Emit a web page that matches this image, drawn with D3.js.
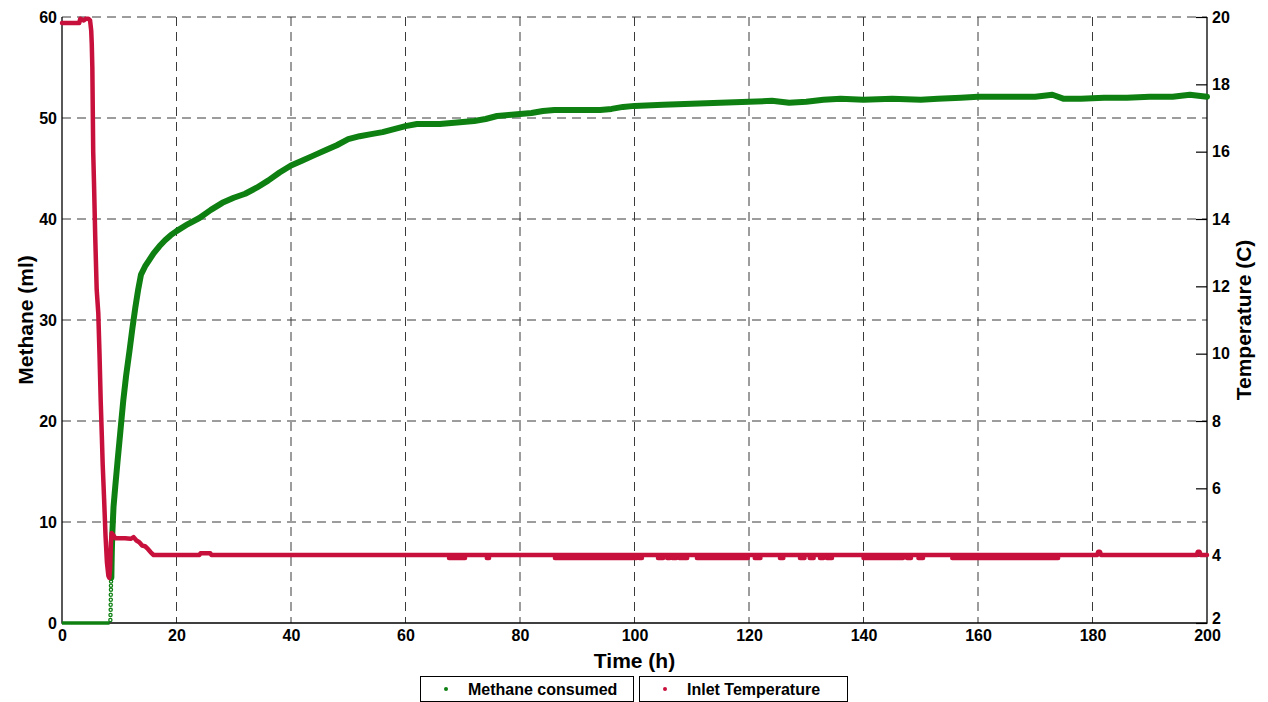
<!DOCTYPE html>
<html><head><meta charset="utf-8">
<script src="https://cdn.jsdelivr.net/npm/d3@7"></script>
<style>
html,body{margin:0;padding:0;background:#fff;}
svg{display:block;font-family:"Liberation Sans",Arial,sans-serif;}
</style></head>
<body><svg id="chart" width="1268" height="702"></svg>
<script>
// ---- data ----
const xTicks = [0,20,40,60,80,100,120,140,160,180,200];
const yLeftTicks = [0,10,20,30,40,50,60];
const yRightTicks = [2,4,6,8,10,12,14,16,18,20];

// Methane consumed (ml) vs time (h) - continuous part
const methaneTime = [0,8.3,8.62,8.65,8.7,8.8,9,9.3,9.7,10.2,10.7,11.2,11.8,12.3,12.8,13.3,13.8,14.5,15.2,16,17,18,19,20,22,24,26,28,30,32,34,36,38,40,42,44,46,48,50,52,54,56,58,60,62,64,66,68,70,72,74,76,78,80,82,84,86,88,90,92,94,96,98,100,105,110,115,120,124,127,130,133,136,140,145,150,153,157,160,165,170,173,175,178,182,186,190,194,197,200];
const methaneValue = [0,0,4.5,5.5,7,9,11.5,13.5,16,19,22,24.5,27,29.2,31.2,33,34.5,35.3,35.9,36.6,37.3,37.9,38.4,38.8,39.5,40.1,40.9,41.6,42.1,42.5,43.1,43.8,44.6,45.3,45.8,46.3,46.8,47.3,47.9,48.2,48.4,48.6,48.9,49.2,49.4,49.4,49.4,49.5,49.6,49.7,49.9,50.2,50.3,50.4,50.5,50.7,50.8,50.8,50.8,50.8,50.8,50.9,51.1,51.2,51.3,51.4,51.5,51.6,51.7,51.5,51.6,51.8,51.9,51.8,51.9,51.8,51.9,52.0,52.1,52.1,52.1,52.3,51.9,51.9,52.0,52.0,52.1,52.1,52.3,52.1];
// sparse samples during the steep start (drawn as separate dots)
const methaneRiseTime = [8.45,8.47,8.5,8.5,8.52,8.52,8.55,8.55,8.57,8.6];
const methaneRiseValue = [0.3,0.8,1.3,1.8,2.3,2.8,3.3,3.7,4.1,4.4];

// Inlet temperature (C) vs time (h) - main trace
const tempTime = [0,3.0,3.2,3.8,4.2,4.6,4.9,5.1,5.2,5.3,5.45,5.6,5.8,6.06,6.34,6.55,6.76,6.95,7.11,7.35,7.6,7.85,8.1,8.26,8.4,8.55,8.68,9.0,9.3,11,12,12.5,13,13.5,14,14.5,15,15.5,16,24,24.2,25.9,26.1,180.8,181.0,181.3,181.5,198.2,198.4,198.7,198.9,200];
const tempValue = [19.82,19.82,19.95,19.9,19.95,19.95,19.9,19.6,19.2,18.5,16.0,15.0,13.5,11.9,11.2,10.0,8.6,7.6,6.7,5.7,4.6,3.8,3.4,3.34,3.6,4.4,4.67,4.6,4.52,4.52,4.5,4.55,4.45,4.4,4.3,4.28,4.2,4.1,4.02,4.02,4.07,4.07,4.02,4.02,4.12,4.12,4.02,4.02,4.12,4.12,4.02,4.02];
// short stretches where the reading dropped to ~3.93 C
const dipStart = [67.6,74.2,86.1,100.1,100.8,104.1,105.7,106.6,107.8,110.9,121.0,125.4,128.9,130.6,132.4,133.6,140.0,147.6,149.6,155.5];
const dipEnd   = [70.4,74.6,99.8,100.4,101.3,105.0,106.2,107.3,109.2,119.8,122.0,126.0,129.7,131.3,133.0,134.5,146.9,148.3,150.4,174.0];
const dipValue = 3.93;

const legendLabels = ["Methane consumed","Inlet Temperature"];
const green = "#0e8012", red = "#c8103c";

// ---- layout ----
const svg = d3.select("#chart");
const L = 62, R = 1207, T = 17, B = 623;
const x = d3.scaleLinear().domain([0,200]).range([L,R]);
const yL = d3.scaleLinear().domain([0,60]).range([B,T]);
const yR = d3.scaleLinear().domain([2,20]).range([B,T]);

// grid
const grid = svg.append("g");
grid.selectAll("line.v").data(xTicks.filter(d=>d>0&&d<200)).join("line")
  .attr("x1",d=>x(d)).attr("x2",d=>x(d)).attr("y1",T).attr("y2",B)
  .attr("stroke","#3a3a3a").attr("stroke-width",1).attr("stroke-dasharray","9,6");
grid.selectAll("line.h").data(yLeftTicks.filter(d=>d>0)).join("line")
  .attr("x1",L).attr("x2",R).attr("y1",d=>yL(d)).attr("y2",d=>yL(d))
  .attr("stroke","#3a3a3a").attr("stroke-width",1).attr("stroke-dasharray","9,6");

// frame (solid left, bottom, right)
svg.append("path").attr("d",`M${L},${T}V${B}H${R}V${T}`).attr("fill","none").attr("stroke","#000").attr("stroke-width",1.3);

// axes
const gx = svg.append("g").attr("transform",`translate(0,${B})`)
  .call(d3.axisBottom(x).tickValues(xTicks).tickSize(0).tickPadding(8));
const gl = svg.append("g").attr("transform",`translate(${L},0)`)
  .call(d3.axisLeft(yL).tickValues(yLeftTicks).tickSize(0).tickPadding(5));
const gr = svg.append("g").attr("transform",`translate(${R},0)`)
  .call(d3.axisRight(yR).tickValues(yRightTicks).tickSize(-11).tickPadding(5));
[gx,gl,gr].forEach(g=>{
  g.select(".domain").remove();
  g.selectAll("text").attr("font-size",16).attr("font-weight","bold").attr("fill","#000");
  g.selectAll("line").attr("stroke","#000").attr("stroke-width",1.2);
});
gx.selectAll("text").attr("dy","0.62em");
// lowest right label sits just above the last x label, as in the reference
gr.selectAll(".tick").filter(d=>d===2).select("text").attr("dy","0.05em");

// axis titles
svg.append("text").attr("x",(L+R)/2).attr("y",668).attr("text-anchor","middle")
  .attr("font-size",21).attr("font-weight","bold").text("Time (h)");
svg.append("text").attr("transform",`translate(33,${(T+B)/2}) rotate(-90)`).attr("text-anchor","middle")
  .attr("font-size",21).attr("font-weight","bold").text("Methane (ml)");
svg.append("text").attr("transform",`translate(1251,${(T+B)/2}) rotate(-90)`).attr("text-anchor","middle")
  .attr("font-size",21).attr("font-weight","bold").text("Temperature (C)");

// methane series
const mData = methaneTime.map((t,i)=>({t, v:methaneValue[i]}));
const lineM = d3.line().x(d=>x(d.t)).y(d=>yL(d.v));
svg.append("path").datum(mData.slice(0,2)).attr("d",lineM).attr("fill","none")
  .attr("stroke",green).attr("stroke-width",3.5);
svg.append("path").datum(mData.slice(2)).attr("d",lineM).attr("fill","none")
  .attr("stroke",green).attr("stroke-width",6).attr("stroke-linejoin","round").attr("stroke-linecap","round");
svg.selectAll("circle.mr").data(methaneRiseTime.map((t,i)=>({t,v:methaneRiseValue[i]}))).join("circle")
  .attr("cx",d=>x(d.t)).attr("cy",d=>yL(d.v)).attr("r",1.6)
  .attr("fill","none").attr("stroke",green).attr("stroke-width",1.3);

// temperature series
const tData = tempTime.map((t,i)=>({t, v:tempValue[i]}));
const lineT = d3.line().x(d=>x(d.t)).y(d=>yR(d.v));
svg.append("path").datum(tData).attr("d",lineT).attr("fill","none")
  .attr("stroke",red).attr("stroke-width",4.5).attr("stroke-linejoin","round").attr("stroke-linecap","round");
svg.selectAll("line.dip").data(dipStart.map((s,i)=>({s, e:dipEnd[i]}))).join("line")
  .attr("x1",d=>x(d.s)).attr("x2",d=>x(d.e)).attr("y1",yR(dipValue)).attr("y2",yR(dipValue))
  .attr("stroke",red).attr("stroke-width",4.5).attr("stroke-linecap","round");

// legend
const legend = [
  {x0:420, x1:633, dot:446, tx:468, color:green, label:legendLabels[0]},
  {x0:639, x1:847, dot:665, tx:687, color:red, label:legendLabels[1]}
];
const lg = svg.selectAll("g.leg").data(legend).join("g");
lg.append("rect").attr("x",d=>d.x0+0.5).attr("y",676.5).attr("width",d=>d.x1-d.x0).attr("height",25)
  .attr("fill","#fff").attr("stroke","#000").attr("stroke-width",1);
lg.append("circle").attr("cx",d=>d.dot).attr("cy",689).attr("r",2).attr("fill",d=>d.color);
lg.append("text").attr("x",d=>d.tx).attr("y",695).attr("font-size",16).attr("font-weight","bold").text(d=>d.label);
</script></body></html>
